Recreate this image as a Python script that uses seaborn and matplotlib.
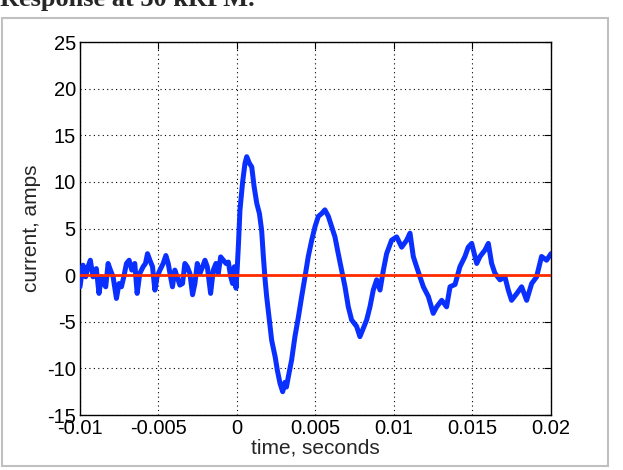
import matplotlib
matplotlib.use("Agg")
import matplotlib.pyplot as plt
import seaborn as sns
import pandas as pd
from matplotlib.patches import Rectangle

# time (s) and current (A)
time_s = [
    -0.0100, -0.00981, -0.00964, -0.00949, -0.00934, -0.00917, -0.00896, -0.00879,
    -0.00864, -0.00849, -0.00836, -0.00821, -0.00806, -0.00789, -0.00768, -0.00751,
    -0.00736, -0.00721, -0.00704, -0.00687, -0.00670, -0.00651, -0.00636, -0.00619,
    -0.00598, -0.00583, -0.00570, -0.00555, -0.00538, -0.00523, -0.00509, -0.00491,
    -0.00470, -0.00453, -0.00438, -0.00423, -0.00411, -0.00396, -0.00381, -0.00364,
    -0.00347, -0.00332, -0.00317, -0.00300, -0.00283, -0.00268, -0.00253, -0.00236,
    -0.00219, -0.00204, -0.00189, -0.00168, -0.00151, -0.00134, -0.00119, -0.00104,
    -0.00087, -0.00070, -0.00055, -0.00040, -0.00028, -0.00017, -0.00006, 0.00002,
    0.00009, 0.00019, 0.00036, 0.00051, 0.00062, 0.00079, 0.00094, 0.00109,
    0.00126, 0.00143, 0.00157, 0.00168, 0.00179, 0.00189, 0.00206, 0.00221,
    0.00243, 0.00257, 0.00274, 0.00291, 0.00305, 0.00315, 0.00327, 0.00348,
    0.00369, 0.00391, 0.00412, 0.00433, 0.00454, 0.00476, 0.00497, 0.00518,
    0.00539, 0.00560, 0.00582, 0.00603, 0.00624, 0.00645, 0.00667, 0.00688,
    0.00709, 0.00730, 0.00762, 0.00783, 0.00800, 0.00826, 0.00847, 0.00868,
    0.00890, 0.00911, 0.00932, 0.00953, 0.00985, 0.01017, 0.01049, 0.01081,
    0.01102, 0.01123, 0.01144, 0.01166, 0.01187, 0.01219, 0.01250, 0.01272,
    0.01304, 0.01335, 0.01357, 0.01389, 0.01420, 0.01452, 0.01473, 0.01495,
    0.01527, 0.01548, 0.01580, 0.01601, 0.01622, 0.01643, 0.01675, 0.01707,
    0.01728, 0.01749, 0.01781, 0.01813, 0.01845, 0.01877, 0.01908, 0.01940,
    0.01972, 0.02000,
]
current_a = [
    -1.25, 1.07, -0.18, 0.9, 1.6, -0.18, 0.7, -1.96,
    -0.18, -0.9, -1.25, 1.25, 0.54, -0.18, -2.5, -0.9,
    -1.25, -0.18, 1.25, 1.6, 0.54, 1.25, -1.96, 0.18,
    0.9, 1.25, 2.3, 1.6, 0.9, -1.6, -0.18, 0.54,
    1.25, 2.1, 1.25, -0.18, -1.25, 0.54, -0.18, -1.07,
    -0.9, 1.25, 0.9, 0.18, -2.1, -0.9, 1.25, 0.18,
    0.9, 1.6, 0.9, -1.96, 0.54, 1.25, 0.18, 1.96,
    1.6, 1.25, 1.4, -0.18, -0.9, 0.9, -1.4, 0.9,
    3.2, 7.0, 10.0, 12.0, 12.7, 12.0, 11.6, 9.5,
    7.7, 6.6, 4.8, 2.0, -0.5, -2.3, -4.8, -7.0,
    -8.75, -10.2, -11.6, -12.5, -11.5, -12.0, -10.9, -9.1,
    -6.6, -4.5, -2.3, -0.2, 2.0, 3.75, 5.2, 6.3,
    6.6, 7.0, 6.3, 5.2, 4.1, 2.3, 0.5, -1.25,
    -3.4, -4.8, -5.5, -6.6, -5.9, -4.8, -3.4, -1.6,
    -0.5, -1.6, 0.5, 2.3, 3.75, 4.1, 3.0, 3.75,
    4.5, 2.0, 0.9, -0.2, -1.25, -2.3, -4.1, -3.4,
    -2.7, -3.4, -1.25, -1.0, 0.9, 2.0, 3.0, 3.4,
    1.25, 2.0, 2.7, 3.4, 1.25, 0.2, -0.5, -0.2,
    -1.6, -2.7, -2.0, -1.25, -2.7, -0.9, -0.2, 2.0,
    1.6, 2.3,
]
ref_time = [-0.01, 0.02]
ref_current = [0.0, 0.0]

x_ticks = [-0.01, -0.005, 0, 0.005, 0.01, 0.015, 0.02]
x_ticklabels = ["-0.01", "-0.005", "0", "0.005", "0.01", "0.015", "0.02"]
y_ticks = [-15, -10, -5, 0, 5, 10, 15, 20, 25]

df = pd.DataFrame({"time": time_s, "current": current_a})
ref = pd.DataFrame({"time": ref_time, "current": ref_current})

sns.set_style("white")
plt.rcParams["font.family"] = ["Liberation Sans", "DejaVu Sans"]
plt.rcParams["axes.unicode_minus"] = False

fig = plt.figure(figsize=(6.23, 4.70), dpi=100)
ax = fig.add_axes([0.1284, 0.117, 0.756, 0.7936])

sns.lineplot(data=df, x="time", y="current", ax=ax, color="#0a30ff",
             linewidth=3.6, sort=False, zorder=3)
sns.lineplot(data=ref, x="time", y="current", ax=ax, color="#ff2a00",
             linewidth=2.0, zorder=4)

ax.set_xlim(-0.01, 0.02)
ax.set_ylim(-15, 25)
ax.set_xticks(x_ticks)
ax.set_xticklabels(x_ticklabels)
ax.set_yticks(y_ticks)
ax.set_yticklabels([str(v) for v in y_ticks])
ax.grid(True, color="black", linestyle=(0, (1, 3)), linewidth=0.8)
ax.tick_params(direction="in", top=True, right=True, length=5,
               labelsize=14.5, colors="black", pad=3)
for s in ax.spines.values():
    s.set_color("black")
    s.set_linewidth(1.0)
ax.set_xlabel("time, seconds", fontsize=15, labelpad=0)
ax.set_ylabel("current, amps", fontsize=15, labelpad=4)

# light grey frame around the figure and the cut-off caption above it
fig.patches.append(Rectangle((1.5 / 623, 4.5 / 470), 606 / 623, 448 / 470,
                             transform=fig.transFigure, fill=False,
                             edgecolor="#c0c0c0", linewidth=1.5))
fig.text(0.0, 1 - 6 / 470, "Response at 30 kRPM.", fontsize=19,
         fontweight="bold", family=["Liberation Serif", "DejaVu Serif"],
         va="baseline", ha="left")

fig.savefig("out.png", dpi=100)
